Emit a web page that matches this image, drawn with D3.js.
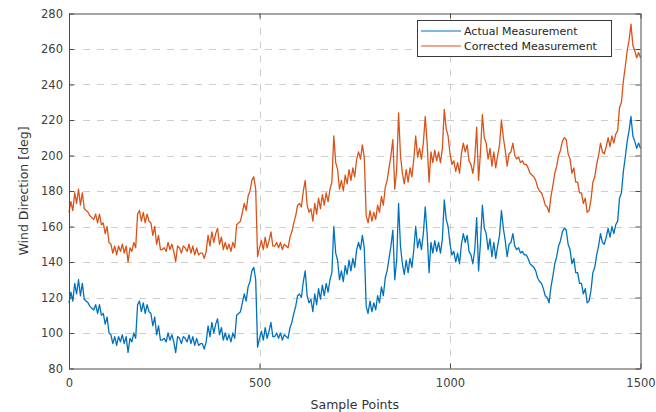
<!DOCTYPE html>
<html>
<head>
<meta charset="utf-8">
<script src="https://cdn.jsdelivr.net/npm/d3@7"></script>
<style>
  html, body { margin: 0; padding: 0; background: #fff; }
  svg { display: block; font-family: "DejaVu Sans", sans-serif; }
</style>
</head>
<body>
<svg id="chart" width="656" height="412"></svg>
<script>
// Wind direction record, one value every 5 samples
const sampleStep = 5;

const actualMeasurement = [
  117,123,118,128,122,130,121,128,119,118,117,115,114,113,116,111,116,110,111,105,
  109,100,99,94,98,93,98,95,99,94,98,89,97,95,100,97,116,118,112,117,
  111,116,112,111,104,109,99,104,96,96,97,95,100,96,99,95,89,98,97,94,
  98,97,95,99,94,98,93,97,93,94,94,91,95,104,98,106,100,105,108,99,
  103,96,100,96,99,95,100,97,110,111,112,117,122,118,126,129,135,137,130,92,
  97,101,96,103,97,101,106,98,98,100,97,100,96,99,98,97,103,106,111,115,
  121,122,120,129,135,121,117,119,112,122,116,125,119,127,121,128,123,130,134,160,
  145,141,130,135,129,138,133,141,135,142,137,147,151,147,155,148,115,111,118,112,
  117,113,121,117,126,121,131,135,142,149,158,130,141,173,149,139,133,141,134,142,
  137,147,160,148,153,147,156,171,156,134,151,145,152,146,151,145,153,175,164,160,
  150,144,146,140,145,139,150,156,151,155,146,144,139,147,165,135,151,172,159,156,
  147,153,143,151,142,149,155,169,159,152,143,150,151,156,149,147,148,145,146,144,
  144,142,139,138,137,135,131,129,128,125,121,120,117,126,132,139,143,149,152,157,
  159,158,150,147,139,142,134,134,128,128,122,125,117,118,124,134,137,144,149,156,
  151,150,154,159,154,160,156,161,163,176,179,191,199,208,214,222,211,208,204,207,
  204
];

const correctedMeasurement = [
  168,174,169,179,173,181,172,179,170,169,168,166,165,164,167,162,167,161,162,156,
  160,151,150,145,149,144,149,146,150,145,149,140,148,146,151,148,167,169,163,168,
  162,167,163,162,155,160,150,155,147,147,148,146,151,147,150,146,140,149,148,145,
  149,148,146,150,145,149,144,148,144,145,145,142,146,155,149,157,151,156,159,150,
  154,147,151,147,150,146,151,148,161,162,163,168,173,169,177,180,186,188,181,143,
  148,152,147,154,148,152,157,149,149,151,148,151,147,150,149,148,154,157,162,166,
  172,173,171,180,186,172,168,170,163,173,167,176,170,178,172,179,174,181,185,211,
  196,192,181,186,180,189,184,192,186,193,188,198,202,198,206,199,166,162,169,163,
  168,164,172,168,177,172,182,186,193,200,209,181,192,224,200,190,184,192,185,193,
  188,198,211,199,204,198,207,222,207,185,202,196,203,197,202,196,204,226,215,211,
  201,195,197,191,196,190,201,207,202,206,197,195,190,198,216,186,202,223,210,207,
  198,204,194,202,193,200,206,220,210,203,194,201,202,207,200,198,199,196,197,195,
  195,193,190,189,188,186,182,180,179,176,172,171,168,177,183,190,194,200,203,208,
  210,209,201,198,190,193,185,185,179,179,173,176,168,169,175,185,188,195,200,207,
  202,201,205,210,205,211,207,212,214,227,230,242,250,259,265,274,262,259,255,258,
  255
];

const seriesNames = ["Actual Measurement", "Corrected Measurement"];
const seriesColors = ["#0072BD", "#D95319"];
const xTickValues = [0, 500, 1000, 1500];
const yTickValues = [80, 100, 120, 140, 160, 180, 200, 220, 240, 260, 280];

const svg = d3.select("#chart");
const plot = { left: 69, right: 640.5, top: 13.5, bottom: 368.5 };

const x = d3.scaleLinear().domain([0, 1500]).range([plot.left, plot.right]);
const y = d3.scaleLinear().domain([80, 280]).range([plot.bottom, plot.top]);

// dashed grid
const grid = svg.append("g").attr("stroke", "#cdcdcd").attr("stroke-width", 1)
  .attr("stroke-dasharray", "7,7");
grid.selectAll("line.h").data(yTickValues.slice(1, -1)).join("line")
  .attr("x1", plot.left).attr("x2", plot.right)
  .attr("y1", d => Math.round(y(d)) + 0.5).attr("y2", d => Math.round(y(d)) + 0.5);
grid.selectAll("line.v").data(xTickValues.slice(1, -1)).join("line")
  .attr("y1", plot.top).attr("y2", plot.bottom)
  .attr("x1", d => Math.round(x(d)) + 0.5).attr("x2", d => Math.round(x(d)) + 0.5);

// series lines
const line = d3.line()
  .x((d, i) => x(i * sampleStep))
  .y(d => y(d));

[actualMeasurement, correctedMeasurement].forEach((series, k) => {
  svg.append("path")
    .datum(series)
    .attr("fill", "none")
    .attr("stroke", seriesColors[k])
    .attr("stroke-width", 1.3)
    .attr("stroke-linejoin", "round")
    .attr("d", line);
});

// axes with inward ticks on all four sides
const axisColor = "#4a4a4a";
const tickFont = 11.5;

const gx = svg.append("g").attr("transform", `translate(0,${plot.bottom})`)
  .call(d3.axisBottom(x).tickValues(xTickValues).tickFormat(d3.format("d"))
    .tickSizeInner(-5).tickSizeOuter(0).tickPadding(10));
const gy = svg.append("g").attr("transform", `translate(${plot.left},0)`)
  .call(d3.axisLeft(y).tickValues(yTickValues).tickFormat(d3.format("d"))
    .tickSizeInner(-5).tickSizeOuter(0).tickPadding(6));
const gt = svg.append("g").attr("transform", `translate(0,${plot.top})`)
  .call(d3.axisTop(x).tickValues(xTickValues).tickFormat("")
    .tickSizeInner(-5).tickSizeOuter(0));
const gr = svg.append("g").attr("transform", `translate(${plot.right},0)`)
  .call(d3.axisRight(y).tickValues(yTickValues).tickFormat("")
    .tickSizeInner(-5).tickSizeOuter(0));

[gx, gy, gt, gr].forEach(g => {
  g.selectAll("path.domain").attr("stroke", axisColor).attr("stroke-width", 1);
  g.selectAll(".tick line").attr("stroke", axisColor);
  g.selectAll(".tick text").attr("fill", "#404040")
    .style("font-family", "'DejaVu Sans', sans-serif").style("font-size", tickFont + "px");
});

// axis titles
svg.append("text")
  .attr("x", (plot.left + plot.right) / 2).attr("y", 409)
  .attr("text-anchor", "middle").attr("fill", "#333")
  .style("font-size", "12.5px").text("Sample Points");
svg.append("text")
  .attr("transform", `translate(28,${(plot.top + plot.bottom) / 2}) rotate(-90)`)
  .attr("text-anchor", "middle").attr("fill", "#333")
  .style("font-size", "12.5px").text("Wind Direction [deg]");

// legend
const legend = svg.append("g");
legend.append("rect")
  .attr("x", 417.5).attr("y", 20.5).attr("width", 194).attr("height", 36)
  .attr("fill", "#fff").attr("stroke", "#3a3a3a").attr("stroke-width", 1);
seriesNames.forEach((name, k) => {
  const ly = 31 + k * 15;
  legend.append("line")
    .attr("x1", 421).attr("x2", 461).attr("y1", ly).attr("y2", ly)
    .attr("stroke", seriesColors[k]).attr("stroke-width", 1.1);
  legend.append("text")
    .attr("x", 464).attr("y", ly + 4).attr("fill", "#262626")
    .style("font-size", "11px").text(name);
});
</script>
</body>
</html>
